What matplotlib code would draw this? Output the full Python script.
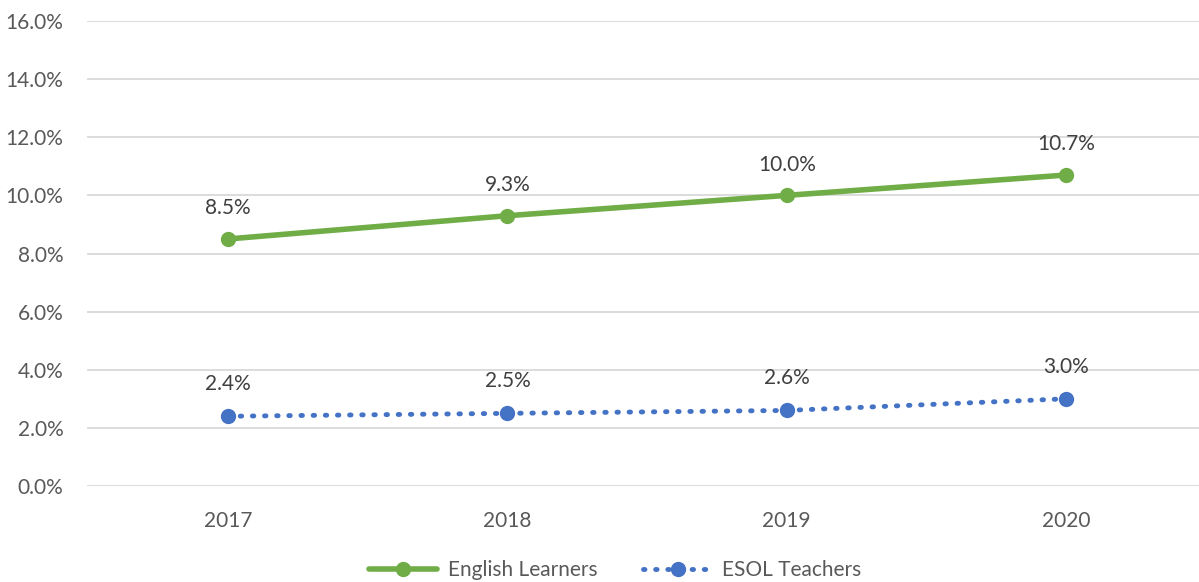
import matplotlib
matplotlib.use("Agg")
import matplotlib.pyplot as plt
from matplotlib.ticker import FuncFormatter

years = ["2017", "2018", "2019", "2020"]
english_learners = [8.5, 9.3, 10.0, 10.7]
esol_teachers = [2.4, 2.5, 2.6, 3.0]
yticks = [0, 2, 4, 6, 8, 10, 12, 14, 16]

plt.rcParams['font.family'] = ['Lato', 'DejaVu Sans']

fig = plt.figure(figsize=(11.99, 5.82), dpi=100)
ax = fig.add_axes([87/1199, 96/582, (1199-87)/1199, (486-21)/582])

x = list(range(len(years)))
green = "#70AD47"
blue = "#4472C4"

ax.plot(x, english_learners, color=green, lw=4, marker="o", ms=10,
        solid_capstyle="round", label="English Learners", zorder=3)
ax.plot(x, esol_teachers, color=blue, lw=3.5, ls=(0, (0.3, 2.2)), dash_capstyle="round",
        marker="o", ms=10, label="ESOL Teachers", zorder=3)

for xi, v in zip(x, english_learners):
    ax.annotate(f"{v:.1f}%", (xi, v), xytext=(0, 15), textcoords="offset points",
                ha="center", va="bottom", fontsize=15, color="#404040")
for xi, v in zip(x, esol_teachers):
    ax.annotate(f"{v:.1f}%", (xi, v), xytext=(0, 16), textcoords="offset points",
                ha="center", va="bottom", fontsize=15, color="#404040")

ax.set_xlim(-0.505, 3.476)
ax.set_ylim(0, 16)
ax.set_yticks(yticks)
ax.yaxis.set_major_formatter(FuncFormatter(lambda v, p: f"{v:.1f}%"))
ax.set_xticks(x)
ax.set_xticklabels(years)
ax.grid(axis="y", color="#D9D9D9", lw=1.3)
ax.set_axisbelow(True)
for s in ax.spines.values():
    s.set_visible(False)
ax.tick_params(axis="both", length=0, labelsize=15, labelcolor="#595959")
ax.tick_params(axis="y", pad=17)
ax.tick_params(axis="x", pad=18)

fig.legend(loc="lower center", bbox_to_anchor=(0.513, -0.018), ncol=2, frameon=False,
           fontsize=15, labelcolor="#595959", handlelength=3.3, handletextpad=0.5,
           columnspacing=2.2, borderaxespad=0.2)

fig.savefig("out.png", dpi=100)
